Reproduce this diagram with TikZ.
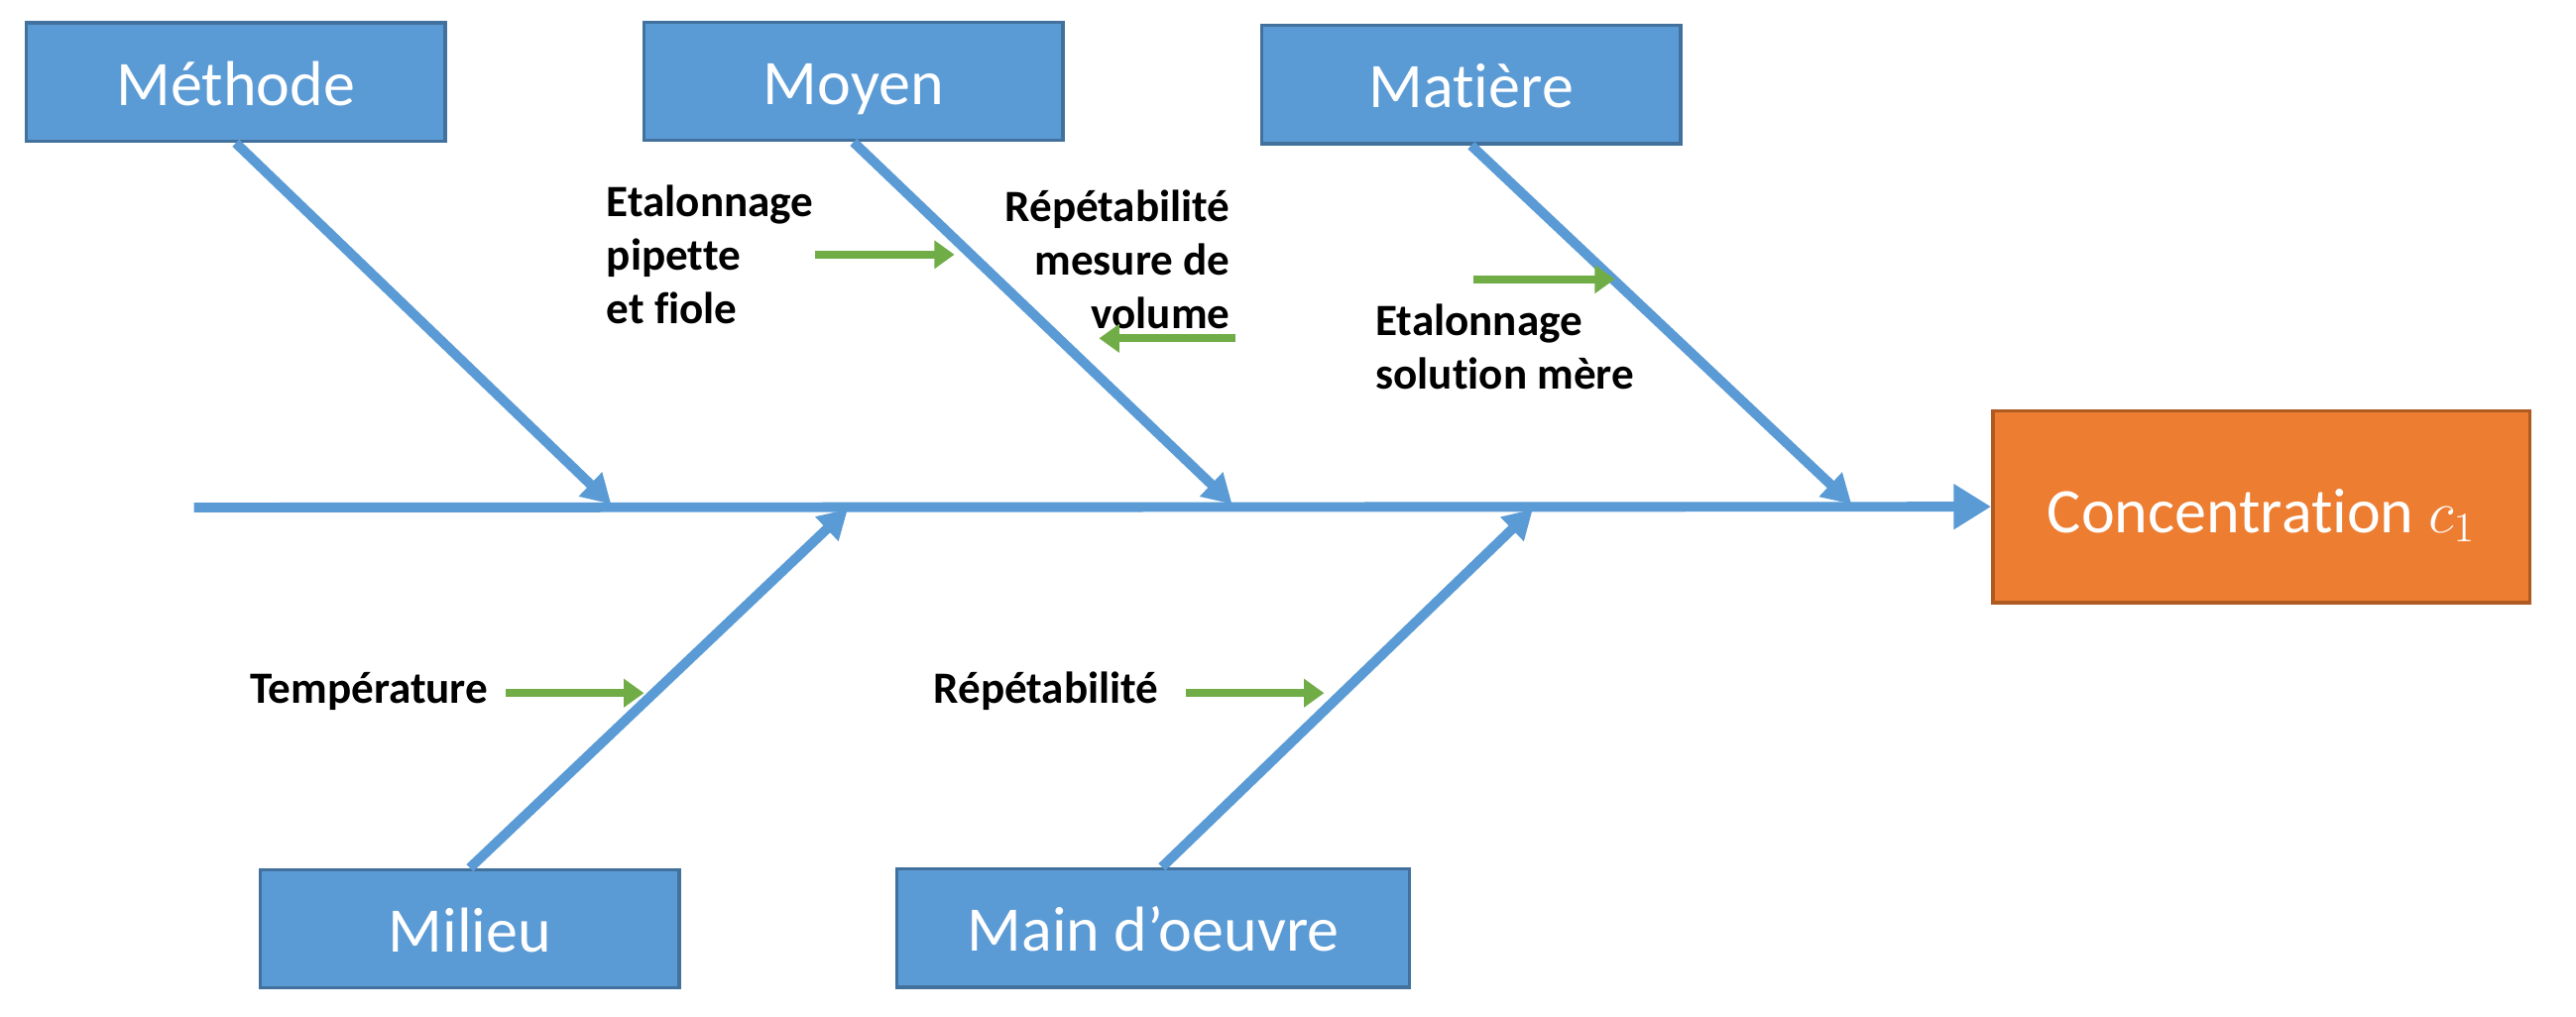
\documentclass[tikz,border=0pt]{standalone}
\usepackage{fontspec}
\setmainfont{Carlito}[Ligatures=NoCommon]
\usepackage{tikz}
\usetikzlibrary{arrows.meta,positioning}

\definecolor{causebleu}{HTML}{5B9BD5}
\definecolor{causebord}{HTML}{41719C}
\definecolor{effetorange}{HTML}{ED7D31}
\definecolor{effetbord}{HTML}{AE5A21}
\definecolor{vert}{HTML}{70AD47}

\tikzset{
  cause/.style={draw=causebord,line width=1.2pt,fill=causebleu,text=white,
    font=\fontsize{22}{26}\selectfont,minimum width=5.1cm,minimum height=1.44cm,inner sep=0pt,
    text height=17pt,text depth=1pt},
  arete/.style={draw=causebleu,line width=3.4pt,-{Triangle[length=10pt,width=11pt]}},
  sous/.style={font=\bfseries\fontsize{15.5}{18.5}\selectfont,inner sep=0pt},
  fleche/.style={draw=vert,line width=2.7pt,-{Triangle[length=7pt,width=9.5pt]}}
}

\begin{document}
\begin{tikzpicture}[x=0.02cm,y=-0.02cm]
\useasboundingbox (0,0) rectangle (1568,619);

% les causes
\node[cause] (methode) at (143.5,50) {Méthode};
\node[cause] (moyen) at (519.5,49.5) {Moyen};
\node[cause] (matiere) at (895.5,51.5) {Matière};
\node[cause] (milieu) at (286,565.5) {Milieu};
\node[cause,minimum width=6.24cm] (main) at (702,565) {Main d’oeuvre};

% l'effet
\node[draw=effetbord,line width=1.2pt,fill=effetorange,text=white,font=\fontsize{22}{26}\selectfont,
  minimum width=6.54cm,minimum height=2.34cm,inner sep=0pt,text height=18pt,text depth=0pt]
  (effet) at (1376.5,308.5) {Concentration $c_1$};

% arete principale
\coordinate (queue) at (118,309);
\draw[arete,-{Triangle[length=13pt,width=15pt]}] (queue) -- (effet.west);

\coordinate (pmethode) at (372,307);
\coordinate (pmoyen) at (750,307);
\coordinate (pmatiere) at (1127,307);
\coordinate (pmilieu) at (516,310);
\coordinate (pmain) at (933,310);
\draw[arete] (methode.south) -- (pmethode);
\draw[arete] (moyen.south) -- (pmoyen);
\draw[arete] (matiere.south) -- (pmatiere);
\draw[arete] (milieu.north) -- (pmilieu);
\draw[arete] ([xshift=3]main.north) -- (pmain);

% sous-causes
\node[sous,anchor=west,align=left] (etal) at (369,155) {Etalonnage\\pipette\\et fiole};
\node[sous,anchor=east,align=right] (repvol) at (749,158) {Répétabilité\\mesure de\\volume};
\node[sous,anchor=west,align=left] (etalsol) at (837,211) {Etalonnage\\solution mère};
\node[sous,anchor=west] (temp) at (152,421) {Température};
\node[sous,anchor=west] (rep) at (568,421) {Répétabilité};

\coordinate (a1) at (496,155); \coordinate (b1) at (581,155);
\coordinate (a2) at (752,206); \coordinate (b2) at (669,206);
\coordinate (a3) at (897,170); \coordinate (b3) at (983,170);
\coordinate (a4) at (308,422); \coordinate (b4) at (392,422);
\coordinate (a5) at (722,422); \coordinate (b5) at (806,422);
\draw[fleche] (a1) -- (b1);
\draw[fleche] (a2) -- (b2);
\draw[fleche] (a3) -- (b3);
\draw[fleche] (a4) -- (b4);
\draw[fleche] (a5) -- (b5);
\end{tikzpicture}
\end{document}
